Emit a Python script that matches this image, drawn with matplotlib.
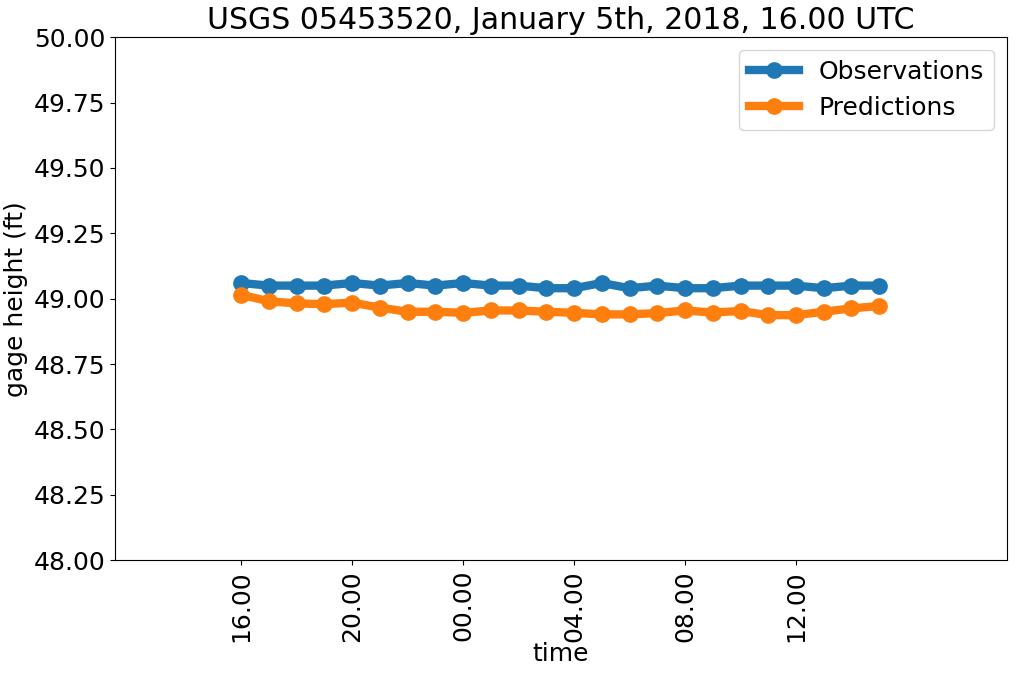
import matplotlib
matplotlib.use('Agg')
import matplotlib.pyplot as plt

hours = list(range(24))
tick_pos = [0, 4, 8, 12, 16, 20]
tick_labels = ['16.00', '20.00', '00.00', '04.00', '08.00', '12.00']

observations = [49.06, 49.05, 49.05, 49.05, 49.06, 49.05, 49.06, 49.05,
                49.06, 49.05, 49.05, 49.04, 49.04, 49.06, 49.04, 49.05,
                49.04, 49.04, 49.05, 49.05, 49.05, 49.04, 49.05, 49.05]
predictions = [49.015, 48.99, 48.982, 48.979, 48.985, 48.966, 48.95, 48.95,
               48.946, 48.955, 48.955, 48.95, 48.946, 48.94, 48.94, 48.945,
               48.955, 48.947, 48.953, 48.937, 48.937, 48.95, 48.963, 48.972]

fig = plt.figure(figsize=(10.17, 6.75), dpi=100)
ax = fig.add_subplot(111)
fig.subplots_adjust(left=0.113, right=0.99, top=0.945, bottom=0.17)

ax.plot(hours, observations, marker='o', linewidth=6, markersize=11, label='Observations')
ax.plot(hours, predictions, marker='o', linewidth=6, markersize=11, label='Predictions')

ax.set_ylim(48, 50)
ax.set_xlim(-4.55, 27.6)
ax.set_yticks([48.0, 48.25, 48.5, 48.75, 49.0, 49.25, 49.5, 49.75, 50.0])
ax.set_yticklabels(['%.2f' % v for v in ax.get_yticks()])
ax.set_xticks(tick_pos)
ax.set_xticklabels(tick_labels, rotation=90)
ax.tick_params(labelsize=18)

ax.set_title('USGS 05453520, January 5th, 2018, 16.00 UTC', fontsize=21.6)
ax.set_xlabel('time', fontsize=18, labelpad=0)
ax.set_ylabel('gage height (ft)', fontsize=18)
ax.legend(fontsize=18, loc='upper right')

fig.savefig('out.png', dpi=100)
